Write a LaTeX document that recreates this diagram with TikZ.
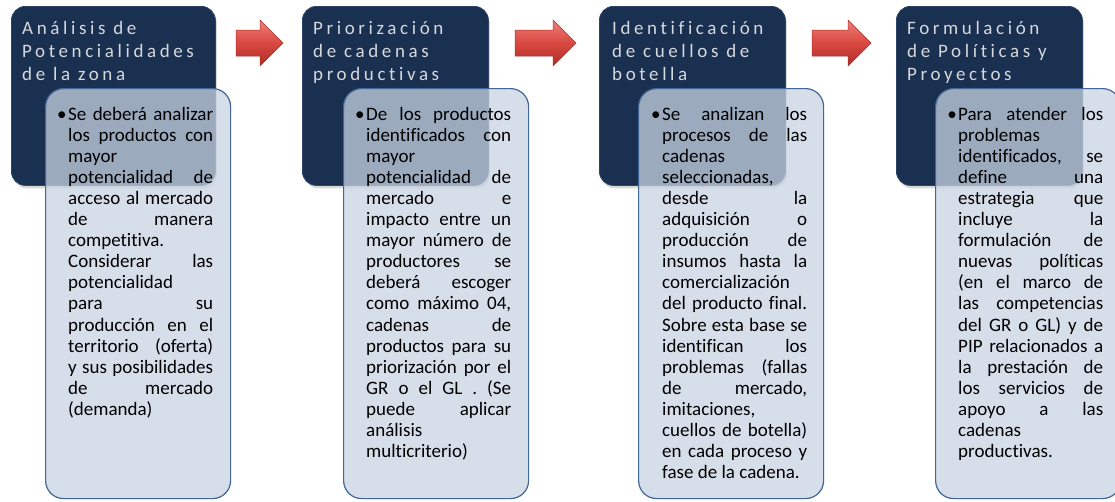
\documentclass[tikz,border=0pt]{standalone}
\usepackage{fontspec}
\setmainfont{Carlito}[Ligatures=NoCommon]
\newfontfamily\titlefont[LetterSpace=19,Ligatures=NoCommon]{Carlito}
\usetikzlibrary{shadows}
\definecolor{navy}{RGB}{26,48,81}
\definecolor{navyedge}{RGB}{44,68,104}
\definecolor{panel}{RGB}{200,211,227}
\definecolor{paneledge}{RGB}{66,102,152}
\definecolor{arrowtop}{RGB}{238,128,120}
\definecolor{arrowmid}{RGB}{216,72,64}
\definecolor{arrowbot}{RGB}{176,44,40}
\definecolor{arrowedge}{RGB}{170,50,45}
\definecolor{titlegray}{RGB}{214,216,220}
\newcommand\jl[1]{\hbox to 145pt{#1}}
\newcommand\lline[1]{\hbox to 145pt{#1\hfil}}
\newcommand\bul{\llap{\textbullet\hspace{1.5pt}}}
\tikzset{
  darkbox/.style={draw=navyedge, fill=navy, rounded corners=14pt, line width=0.8pt,
    anchor=north west, inner sep=0pt, minimum height=179pt,
    drop shadow={opacity=0.3, shadow xshift=1.5pt, shadow yshift=-3pt}},
  lightbox/.style={draw=paneledge, fill=panel, fill opacity=0.75, draw opacity=1,
    rounded corners=18pt, line width=1.2pt, anchor=north west, inner sep=0pt,
    minimum width=185pt, minimum height=410pt},
  titletext/.style={anchor=base west, inner sep=0pt, text=titlegray,
    font=\titlefont\fontsize{19}{23}\selectfont},
  bodytext/.style={anchor=base west, inner sep=0pt, text=black,
    font=\fontsize{19}{21.1}\selectfont},
  blockarrow/.style={top color=arrowtop, bottom color=arrowbot, middle color=arrowmid,
    draw=arrowedge, line width=0.5pt, line join=miter}
}
\begin{document}
\begin{tikzpicture}[x=1pt,y=-1pt]
\useasboundingbox (0,0) rectangle (1115,501);
\clip (0,0) rectangle (1115,501);

% dark boxes
\node[darkbox, minimum width=204pt] (d1) at (11,6) {};
\node[darkbox, minimum width=186pt] (d2) at (302,6) {};
\node[darkbox, minimum width=186pt] (d3) at (599,6) {};
\node[darkbox, minimum width=186pt] (d4) at (896,6) {};

% titles
\node[titletext] (t1) at (22,34) {\parbox[t]{200pt}{\raggedright Análisis de\\Potencialidades\\de la zona}};
\node[titletext] (t2) at (313,34) {\parbox[t]{200pt}{\raggedright Priorización\\de cadenas\\productivas}};
\node[titletext] (t3) at (612,34) {\parbox[t]{200pt}{\raggedright Identificación\\de cuellos de\\botella}};
\node[titletext] (t4) at (907,34) {\parbox[t]{200pt}{\raggedright Formulación\\de Políticas y\\Proyectos}};

% light boxes
\node[lightbox] (l1) at (45,88) {};
\node[lightbox] (l2) at (343,88) {};
\node[lightbox] (l3) at (638,88) {};
\node[lightbox] (l4) at (935,88) {};

% arrows
\shadedraw[blockarrow] (236,30) -- (260,30) -- (260,20) -- (283,43) -- (260,66) -- (260,56) -- (236,56) -- cycle;
\shadedraw[blockarrow] (515,30) -- (553,30) -- (553,20) -- (576,43) -- (553,66) -- (553,56) -- (515,56) -- cycle;
\shadedraw[blockarrow] (812,30) -- (848,30) -- (848,20) -- (871,43) -- (848,66) -- (848,56) -- (812,56) -- cycle;

% body texts
\node[bodytext] (b1) at (68,120) {\parbox[t]{145pt}{%
\jl{\bul Se\hfill deberá\hfill analizar}
\jl{los\hfill productos\hfill con}
\lline{mayor}
\jl{potencialidad\hfill de}
\jl{acceso\hfill al\hfill mercado}
\jl{de\hfill manera}
\lline{competitiva.}
\jl{Considerar\hfill las}
\lline{potencialidad}
\jl{para\hfill su}
\jl{producción\hfill en\hfill el}
\jl{territorio\hfill (oferta)}
\jl{y\hfill sus\hfill posibilidades}
\jl{de\hfill mercado}
\lline{(demanda)}}};

\node[bodytext] (b2) at (366,120) {\parbox[t]{145pt}{%
\jl{\bul De\hfill los\hfill productos}
\jl{identificados\hfill con}
\lline{mayor}
\jl{potencialidad\hfill de}
\jl{mercado\hfill e}
\jl{impacto\hfill entre\hfill un}
\jl{mayor\hfill número\hfill de}
\jl{productores\hfill se}
\jl{deberá\hfill escoger}
\jl{como\hfill máximo\hfill 04,}
\jl{cadenas\hfill de}
\jl{productos\hfill para\hfill su}
\jl{priorización\hfill por\hfill el}
\jl{GR\hfill o\hfill el\hfill GL\hfill .\hfill (Se}
\jl{puede\hfill aplicar}
\lline{análisis}
\lline{multicriterio)}}};

\node[bodytext] (b3) at (662,120) {\parbox[t]{145pt}{%
\jl{\bul Se\hfill analizan\hfill los}
\jl{procesos\hfill de\hfill las}
\lline{cadenas}
\lline{seleccionadas,}
\jl{desde\hfill la}
\jl{adquisición\hfill o}
\jl{producción\hfill de}
\jl{insumos\hfill hasta\hfill la}
\lline{comercialización}
\jl{del\hfill producto\hfill final.}
\jl{Sobre\hfill esta\hfill base\hfill se}
\jl{identifican\hfill los}
\jl{problemas\hfill (fallas}
\jl{de\hfill mercado,}
\lline{imitaciones,}
\jl{cuellos\hfill de\hfill botella)}
\jl{en\hfill cada\hfill proceso\hfill y}
\lline{fase de la cadena.}}};

\node[bodytext] (b4) at (958,120) {\parbox[t]{145pt}{%
\jl{\bul Para\hfill atender\hfill los}
\lline{problemas}
\jl{identificados,\hfill se}
\jl{define\hfill una}
\jl{estrategia\hfill que}
\jl{incluye\hfill la}
\jl{formulación\hfill de}
\jl{nuevas\hfill políticas}
\jl{(en\hfill el\hfill marco\hfill de}
\jl{las\hfill competencias}
\jl{del\hfill GR\hfill o\hfill GL)\hfill y\hfill de}
\jl{PIP\hfill relacionados\hfill a}
\jl{la\hfill prestación\hfill de}
\jl{los\hfill servicios\hfill de}
\jl{apoyo\hfill a\hfill las}
\lline{cadenas}
\lline{productivas.}}};
\end{tikzpicture}
\end{document}
